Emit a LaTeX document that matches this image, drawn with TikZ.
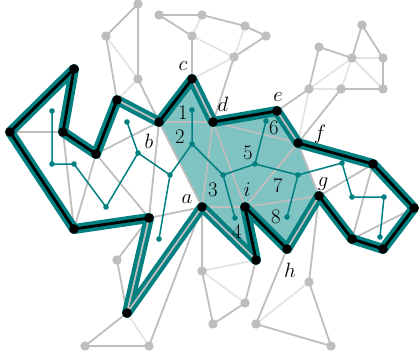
\documentclass[tikz,border=0pt]{standalone}
\usepackage{tikz}
\definecolor{tealline}{RGB}{0,128,128}
\definecolor{tealfill}{RGB}{128,195,195}
\definecolor{graphgray}{RGB}{190,190,190}
\definecolor{faintgray}{RGB}{228,228,228}
\tikzset{
  gedge/.style={draw=graphgray, line width=1.8pt},
  faint/.style={draw=faintgray, line width=1.8pt},
  outline/.style={draw=tealline, line width=10pt, line join=round, line cap=round},
  matched/.style={draw=black, line width=2.8pt, line cap=round},
  unmatched/.style={draw=graphgray, line width=1.8pt, line cap=round},
  tree/.style={draw=tealline, line width=1.5pt},
  lbl/.style={font=\huge, inner sep=0pt}
}

\begin{document}
\begin{tikzpicture}[x=1pt, y=-1pt]
  \useasboundingbox (0,0) rectangle (419,358);

  % vertices on the cycle
  \coordinate (lw) at (10,132);
  \coordinate (lt) at (74,69);
  \coordinate (lm) at (63,132);
  \coordinate (lv) at (96,154);
  \coordinate (lp) at (117,100);
  \coordinate (b) at (159,122);
  \coordinate (c) at (192,79);
  \coordinate (d) at (213,122);
  \coordinate (e) at (277,111);
  \coordinate (f) at (298,143);
  \coordinate (rq) at (373,164);
  \coordinate (re) at (414,208);
  \coordinate (rs) at (383,249);
  \coordinate (rv) at (352,239);
  \coordinate (g) at (319,196);
  \coordinate (h) at (287,249);
  \coordinate (i) at (245,207);
  \coordinate (q) at (256,260);
  \coordinate (a) at (202,207);
  \coordinate (bs) at (127,313);
  \coordinate (bn) at (149,218);
  \coordinate (ls) at (74,229);

  % other vertices
  \coordinate (t1) at (138,4);
  \coordinate (t2) at (106,36);
  \coordinate (t3) at (138,79);
  \coordinate (t4) at (159,15);
  \coordinate (t5) at (202,15);
  \coordinate (t6) at (192,36);
  \coordinate (t7) at (234,57);
  \coordinate (t8) at (245,26);
  \coordinate (t9) at (266,36);
  \coordinate (r1) at (362,25);
  \coordinate (r2) at (319,47);
  \coordinate (r3) at (352,58);
  \coordinate (r4) at (383,58);
  \coordinate (r5) at (309,89);
  \coordinate (r6) at (341,89);
  \coordinate (r7) at (383,89);
  \coordinate (b1) at (117,260);
  \coordinate (b3) at (85,346);
  \coordinate (b4) at (149,346);
  \coordinate (b5) at (202,271);
  \coordinate (b6) at (245,303);
  \coordinate (b7) at (213,324);
  \coordinate (b9) at (309,282);
  \coordinate (b10) at (256,324);
  \coordinate (b11) at (331,346);

  % tree
  \coordinate (k1) at (52,111);
  \coordinate (k2) at (52,164);
  \coordinate (k3) at (74,164);
  \coordinate (k4) at (106,207);
  \coordinate (k5) at (138,153);
  \coordinate (k6) at (127,122);
  \coordinate (k7) at (170,175);
  \coordinate (k8) at (159,239);
  \coordinate (n1) at (192,110);
  \coordinate (n2) at (192,144);
  \coordinate (n3) at (223,175);
  \coordinate (n4) at (235,218);
  \coordinate (n5) at (255,164);
  \coordinate (n6) at (266,121);
  \coordinate (n7) at (298,175);
  \coordinate (n8) at (287,217);
  \coordinate (m1) at (342,163);
  \coordinate (m2) at (352,197);
  \coordinate (m3) at (384,197);
  \coordinate (m4) at (380,237);

  \fill[tealfill] (b) -- (c) -- (d) -- (e) -- (f) -- (g) -- (h) -- (i) -- (q) -- (a) -- cycle;

  \draw[faint] (t2) -- (t3) (t3) -- (lp) (t5) -- (t6) (t6) -- (t7) (t8) -- (t7) (c) -- (t7);
  \draw[faint] (r3) -- (r4) (r3) -- (r5) (r3) -- (r6) (r3) -- (r7) (r5) -- (r6) (r5) -- (f);
  \draw[faint] (bs) -- (b4) (b5) -- (b6) (b5) -- (q) (b9) -- (b10);

  \draw[gedge] (t1) -- (t2) (t1) -- (t3) (t2) -- (lp) (t3) -- (b);
  \draw[gedge] (t4) -- (t5) (t4) -- (t6) (t6) -- (c) (t5) -- (t8) (t8) -- (t9) (t9) -- (t7) (t7) -- (d);
  \draw[gedge] (r1) -- (r3) (r1) -- (r4) (r2) -- (r3) (r2) -- (r5) (r4) -- (r7) (r6) -- (r7) (r5) -- (e) (r6) -- (f);
  \draw[gedge] (lw) -- (lm) (lm) -- (ls) (lv) -- (ls) (lv) -- (b) (lv) -- (bn) (b) -- (bn) (bn) -- (a) (bn) -- (b1);
  \draw[gedge] (b1) -- (bs) (bs) -- (b3) (b3) -- (b4) (b4) -- (a) (a) -- (b5) (b5) -- (b7) (b7) -- (b6) (b6) -- (q);
  \draw[gedge] (h) -- (b10) (b10) -- (b11) (b11) -- (b9) (b9) -- (g);
  \draw[gedge] (b) -- (d) (d) -- (f) (d) -- (a) (d) -- (i) (f) -- (i) (a) -- (i) (i) -- (g) (b) -- (a) (f) -- (g);
  \draw[gedge] (g) -- (rq) (rv) -- (rq) (rv) -- (re);

  \draw[outline] (lw) -- (lt) -- (lm) -- (lv) -- (lp) -- (b) -- (c) -- (d) -- (e) -- (f) -- (rq) -- (re) -- (rs) -- (rv) -- (g) -- (h) -- (i) -- (q) -- (a) -- (bs) -- (bn) -- (ls) -- cycle;

  \draw[unmatched] (lp) -- (b) (c) -- (d) (e) -- (f) (g) -- (h) (q) -- (a) -- (bs) -- (bn);
  \draw[matched] (ls) -- (lw) -- (lt) -- (lm) -- (lv) -- (lp);
  \draw[matched] (b) -- (c) (d) -- (e);
  \draw[matched] (f) -- (rq) -- (re) -- (rs) -- (rv) -- (g);
  \draw[matched] (h) -- (i) -- (q) (bn) -- (ls);

  \draw[tree] (k1) -- (k2) -- (k3) -- (k4) -- (k5) -- (k6) (k5) -- (k7) -- (k8) (k7) -- (n2);
  \draw[tree] (n1) -- (n2) -- (n3) -- (n4) (n3) -- (n5) -- (n6) (n5) -- (n7) -- (n8) (n7) -- (m1) -- (m2) -- (m3) -- (m4);

  \foreach \v in {t1,t2,t3,t4,t5,t6,t7,t8,t9,r1,r2,r3,r4,r5,r6,r7,b1,b3,b4,b5,b6,b7,b9,b10,b11}
    \fill[graphgray] (\v) circle (4.7);
  \foreach \v in {lw,lt,lm,lv,lp,b,c,d,e,f,rq,re,rs,rv,g,h,i,q,a,bs,bn,ls}
    \fill[black] (\v) circle (4.8);
  \foreach \v in {k1,k2,k3,k4,k5,k6,k7,k8,n1,n2,n3,n4,n5,n6,n7,n8,m1,m2,m3,m4}
    \fill[tealline] (\v) circle (2.8);

  \node[lbl] (la) at (187,199) {$a$};
  \node[lbl] (lb) at (149,141) {$b$};
  \node[lbl] (lc) at (183,66) {$c$};
  \node[lbl] (ld) at (223,104) {$d$};
  \node[lbl] (le) at (278,97) {$e$};
  \node[lbl] (lf) at (320,134) {$f$};
  \node[lbl] (lg) at (323,184) {$g$};
  \node[lbl] (lh) at (290,270) {$h$};
  \node[lbl] (li) at (247,190) {$i$};
  \node[lbl] (l1) at (183,113) {1};
  \node[lbl] (l2) at (180,137) {2};
  \node[lbl] (l3) at (213,190) {3};
  \node[lbl] (l4) at (237,232) {4};
  \node[lbl] (l5) at (248,153) {5};
  \node[lbl] (l6) at (274,128) {6};
  \node[lbl] (l7) at (278,186) {7};
  \node[lbl] (l8) at (276,217) {8};
\end{tikzpicture}
\end{document}
